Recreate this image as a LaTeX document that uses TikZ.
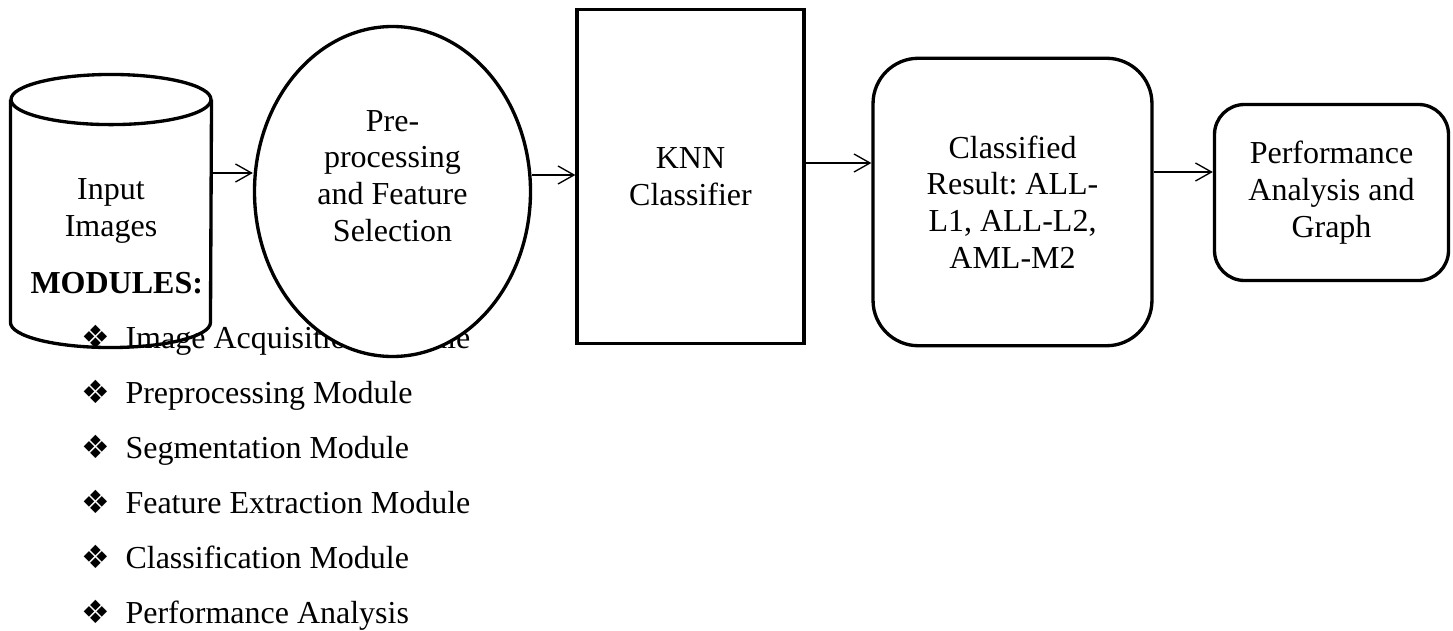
\documentclass[tikz,border=0pt]{standalone}
\usepackage{fontspec}
\setmainfont{Liberation Serif}
\newfontfamily\symfont{DejaVu Sans}
\usetikzlibrary{arrows.meta, shapes.geometric}
\frenchspacing

\newcommand{\modbullet}{\makebox[16.5pt][l]{\symfont\fontsize{12}{12}\selectfont ❖}}

\begin{document}
\begin{tikzpicture}[
  x=0.375pt, y=-0.375pt,
  >={Straight Barb[length=6pt, width=6.75pt]},
  shapeline/.style={draw=black, line width=1.25pt},
  boxtext/.style={align=center, font=\fontsize{12}{13.8}\selectfont},
  flowbox/.style={shapeline, boxtext, fill=white, inner sep=0pt},
  roundbox/.style={flowbox, rounded corners=#1},
  arr/.style={->, line width=0.5pt},
]
\useasboundingbox (0,0) rectangle (1453,631);

% input images, drawn as a cylinder round the node
\node[boxtext, inner sep=0pt, minimum width=75pt, minimum height=102pt] (input) at (111,211) {Input\\Images};
\draw[shapeline] ([yshift=-9.4pt]input.north west) -- ([yshift=9.4pt]input.south west)
  arc[start angle=180, end angle=360, x radius=37.5pt, y radius=9.4pt]
  -- ([yshift=-9.4pt]input.north east);
\draw[shapeline] ([yshift=-9.4pt]input.north) ellipse[x radius=37.5pt, y radius=9.4pt];

% module list (partly hidden by the ellipse)
\node[anchor=base west, inner sep=0pt, font=\fontsize{12}{13.8}\bfseries] (modhead) at (30,293) {MODULES:};
\node[anchor=base west, inner sep=0pt, font=\fontsize{12}{20.625}\selectfont] (modlist) at (81,348) {%
  \begin{tabular}[t]{@{}l@{}}
    \modbullet Image Acquisition Module\\
    \modbullet Preprocessing Module\\
    \modbullet Segmentation Module\\
    \modbullet Feature Extraction Module\\
    \modbullet Classification Module\\
    \modbullet Performance Analysis
  \end{tabular}};

% flow
\node[flowbox, ellipse, minimum width=103.5pt, minimum height=123.75pt] (pre) at (392.5,191.5) {};
\node[boxtext] (pretext) at (392.5,176) {Pre-\\processing\\and Feature\\Selection};
\node[flowbox, minimum width=85.1pt, minimum height=125.25pt] (knn) at (690.5,176.5) {KNN\\Classifier};
\node[roundbox=17pt, minimum width=104.6pt, minimum height=107.8pt] (result) at (1012.5,202) {Classified\\Result: ALL-\\L1, ALL-L2,\\AML-M2};
\node[roundbox=11.25pt, minimum width=87.75pt, minimum height=66pt] (perf) at (1331.5,192.5) {Performance\\Analysis and\\Graph};

\draw[arr] (input.east |- 0,173) -- (pre.west |- 0,173);
\draw[arr] (pre.east |- 0,175) -- (knn.west |- 0,175);
\draw[arr] (knn.east |- 0,163) -- (result.west |- 0,163);
\draw[arr] (result.east |- 0,172) -- (perf.west |- 0,172);

\end{tikzpicture}
\end{document}
